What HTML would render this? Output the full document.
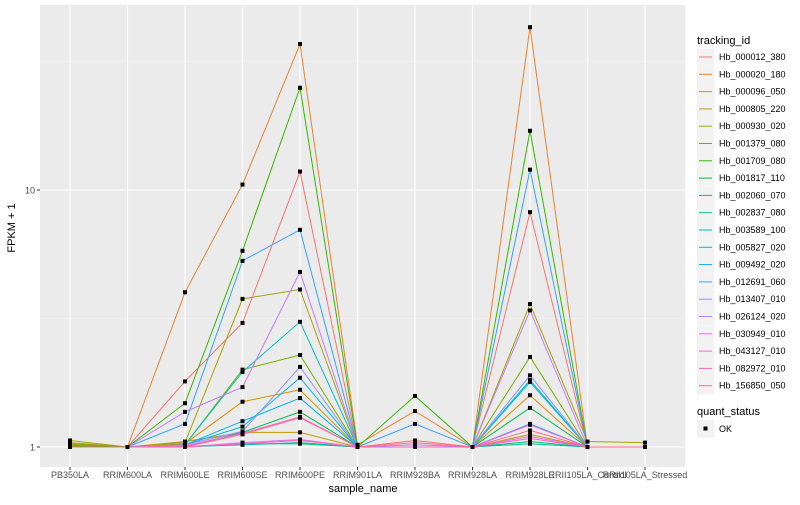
<!DOCTYPE html>
<html><head><meta charset="utf-8"><style>
body{margin:0;background:#fff;font-family:"Liberation Sans",sans-serif}
svg text{font-family:"Liberation Sans",sans-serif}
</style></head><body>
<svg id="c" width="800" height="500" xmlns="http://www.w3.org/2000/svg"></svg>
<script>
const categories=["PB350LA","RRIM600LA","RRIM600LE","RRIM600SE","RRIM600PE","RRIM901LA","RRIM928BA","RRIM928LA","RRIM928LE","RRII105LA_Control","RRII105LA_Stressed"];
const seriesNames=["Hb_000012_380","Hb_000020_180","Hb_000096_050","Hb_000805_220","Hb_000930_020","Hb_001379_080","Hb_001709_080","Hb_001817_110","Hb_002060_070","Hb_002837_080","Hb_003589_100","Hb_005827_020","Hb_009492_020","Hb_012691_060","Hb_013407_010","Hb_026124_020","Hb_030949_010","Hb_043127_010","Hb_082972_010","Hb_156850_050"];
const colors=["#F8766D","#EA8331","#D89000","#C09B00","#A3A500","#7CAE00","#39B600","#00BB4E","#00BF7D","#00C1A3","#00BFC4","#00BAE0","#00B0F6","#35A2FF","#9590FF","#C77CFF","#E76BF3","#FA62DB","#FF62BC","#FF6C91"];
const values=[
[1.0,1.0,1.8,3.04,11.8,1.0,1.06,1.0,8.2,1.0,1.0],
[1.04,1.0,4.0,10.5,37,1.02,1.38,1.0,43,1.0,1.0],
[1.0,1.0,1.03,1.5,1.67,1.0,1.0,1.0,1.59,1.0,1.0],
[1.02,1.0,1.05,1.14,1.14,1.0,1.0,1.0,1.12,1.0,1.0],
[1.06,1.0,1.04,3.77,4.1,1.0,1.0,1.0,3.6,1.05,1.04],
[1.03,1.0,1.02,2.0,2.28,1.0,1.0,1.0,2.24,1.0,1.0],
[1.01,1.0,1.48,5.8,25,1.0,1.58,1.0,17,1.0,1.0],
[1.0,1.0,1.0,1.14,1.37,1.0,1.0,1.0,1.42,1.0,1.0],
[1.0,1.0,1.0,1.03,1.03,1.0,1.0,1.0,1.05,1.0,1.0],
[1.0,1.0,1.0,1.02,1.04,1.0,1.0,1.0,1.03,1.0,1.0],
[1.0,1.0,1.02,1.96,3.07,1.0,1.0,1.0,1.79,1.0,1.0],
[1.0,1.0,1.02,1.2,1.86,1.0,1.0,1.0,1.82,1.0,1.0],
[1.0,1.0,1.02,1.26,1.55,1.0,1.0,1.0,1.23,1.0,1.0],
[1.0,1.0,1.23,5.3,7.0,1.0,1.23,1.0,12,1.0,1.0],
[1.0,1.0,1.02,1.15,2.05,1.0,1.02,1.0,1.9,1.0,1.0],
[1.0,1.0,1.37,1.71,4.8,1.0,1.0,1.0,3.4,1.0,1.0],
[1.0,1.0,1.0,1.04,1.07,1.0,1.0,1.0,1.1,1.0,1.0],
[1.0,1.0,1.01,1.13,1.31,1.0,1.0,1.0,1.22,1.0,1.0],
[1.0,1.0,1.0,1.03,1.06,1.0,1.0,1.0,1.08,1.0,1.0],
[1.0,1.0,1.0,1.12,1.3,1.0,1.04,1.0,1.16,1.0,1.0]];
const yTicks=[1,10];
const yTickLabels=["1","10"];
const NS="http://www.w3.org/2000/svg";
const svg=document.getElementById("c");
function mk(t,a,p){const e=document.createElementNS(NS,t);for(const k in a)e.setAttribute(k,a[k]);(p||svg).appendChild(e);return e;}
const L=40,R=685,T=5,B=467;
function xs(i){return 70+i*(645-70)/(categories.length-1);}
function ys(v){return 447-Math.log10(v)*257;}
const panel=mk("rect",{x:L,y:T,width:R-L,height:B-T,fill:"#EBEBEB"});


[Math.sqrt(10),Math.sqrt(1000)].forEach(v=>mk("line",{x1:L,x2:R,y1:ys(v),y2:ys(v),stroke:"#F5F5F5","stroke-width":0.6}));
yTicks.forEach((v,i)=>{
 mk("line",{x1:L,x2:R,y1:ys(v),y2:ys(v),stroke:"#fff","stroke-width":1.1});
 mk("line",{x1:L-3,x2:L,y1:ys(v),y2:ys(v),stroke:"#333"});
 const t=mk("text",{x:L-5,y:ys(v)+3.5,"text-anchor":"end","font-size":9,fill:"#4D4D4D"});t.textContent=yTickLabels[i];
 
 
});
categories.forEach((c,i)=>{
 mk("line",{x1:xs(i),x2:xs(i),y1:T,y2:B,stroke:"#fff","stroke-width":1.1});
 mk("line",{x1:xs(i),x2:xs(i),y1:B,y2:B+3,stroke:"#333"});
 const t=mk("text",{x:xs(i),y:B+11,"text-anchor":"middle","font-size":9,fill:"#4D4D4D"});t.textContent=c;
 
 
});
values.forEach((s,k)=>{
 const p=mk("polyline",{points:s.map((v,i)=>xs(i)+","+ys(v)).join(" "),fill:"none",stroke:colors[k],"stroke-width":1});
 
 
});
values.forEach(s=>s.forEach((v,i)=>{
 const r=mk("rect",{x:xs(i)-2,y:ys(v)-2,width:4,height:4,fill:"#000"});
 
 
}));
const yt=mk("text",{x:15,y:228,"font-size":11,"text-anchor":"middle",fill:"#000",transform:"rotate(-90 15 228)"});yt.textContent="FPKM + 1";


const xt=mk("text",{x:363,y:492,"font-size":11,"text-anchor":"middle",fill:"#000"});xt.textContent="sample_name";


const lt=mk("text",{x:697,y:44,"font-size":11,fill:"#000"});lt.textContent="tracking_id";


seriesNames.forEach((n,k)=>{
 const y=57+k*17.3;
 const g=mk("g",{});
 
 
 mk("rect",{x:697,y:y-8.6,width:17.3,height:17.3,fill:"#F2F2F2"},g);
 mk("line",{x1:699,x2:712,y1:y,y2:y,stroke:colors[k]},g);
 const t=mk("text",{x:719,y:y+3,"font-size":9,fill:"#000"},g);t.textContent=n;
});
const qt=mk("text",{x:697,y:415,"font-size":11,fill:"#000"});qt.textContent="quant_status";


const g2=mk("g",{});


mk("rect",{x:697,y:420,width:17.3,height:17.3,fill:"#F2F2F2"},g2);
mk("rect",{x:703.5,y:426.5,width:4,height:4,fill:"#000"},g2);
const ok=mk("text",{x:719,y:432,"font-size":9,fill:"#000"},g2);ok.textContent="OK";
</script>
</body></html>
